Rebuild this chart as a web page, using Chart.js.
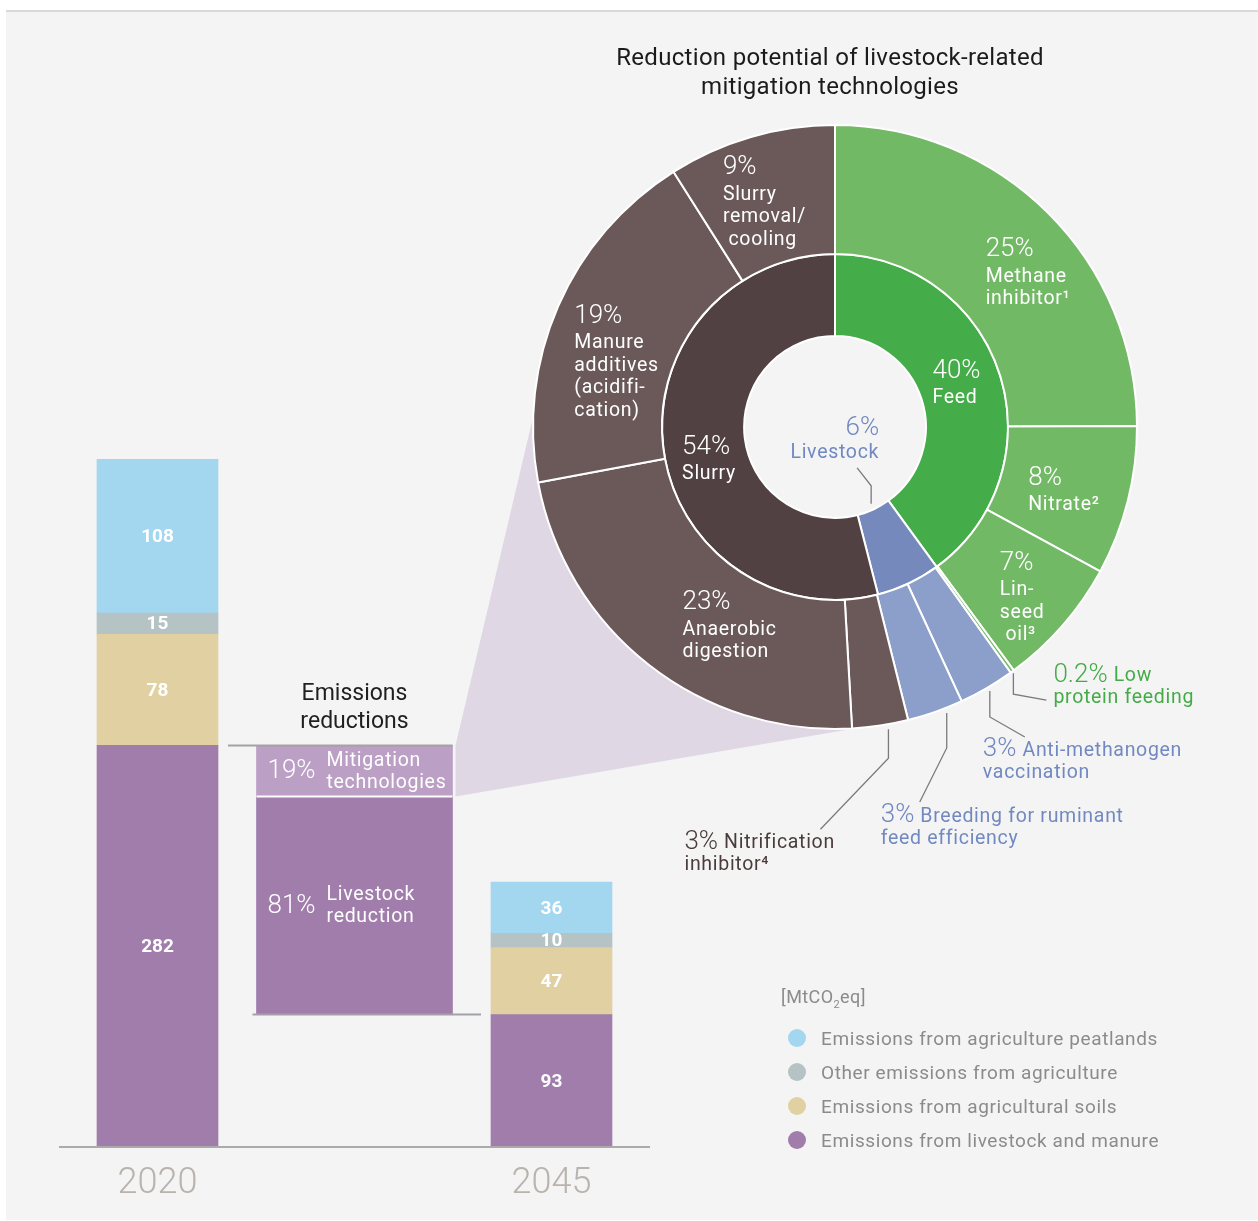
<!DOCTYPE html>
<html>
<head>
<meta charset="utf-8">
<script src="https://cdn.jsdelivr.net/npm/chart.js@4.4.1/dist/chart.umd.min.js"></script>
<style>
  body { margin: 0; background: #fff; font-family: Roboto, "Noto Sans", sans-serif; }
  #panel { position: absolute; left: 6px; top: 10px; width: 1252px; height: 1208px; background: #f4f4f4; border-top: 2px solid #d9d9d9; }
  canvas { position: absolute; left: 0; top: 0; }
  #title { position: absolute; left: 580px; top: 43px; width: 500px; text-align: center; font-size: 24px; letter-spacing: 0.3px; line-height: 29px; color: #1b1b1b; }
  #legend { position: absolute; left: 781px; top: 986px; color: #8b8b8b; }
  #legend .unit { font-size: 18px; line-height: 22px; margin-bottom: 13px; letter-spacing: 0.4px; }
  #legend .unit sub { font-size: 11px; line-height: 0; }
  #legend .row { height: 34px; display: flex; align-items: center; font-size: 19px; letter-spacing: 0.6px; }
  #legend .dot { width: 18px; height: 18px; border-radius: 50%; margin-left: 7px; margin-right: 15px; }
</style>
</head>
<body>
<div id="panel"></div>
<canvas id="bars" width="1258" height="1221"></canvas>
<canvas id="donut" width="1258" height="1221"></canvas>
<div id="title">Reduction potential of livestock-related<br>mitigation technologies</div>
<div id="legend">
  <div class="unit">[MtCO<sub>2</sub>eq]</div>
  <div id="items"></div>
</div>
<script>
// ---- bar data (MtCO2eq) ----
const years = ["2020", "", "2045"];
const yearIdx = [0, 2]; // categories that hold the year stacks
const seriesNames = [
  "Emissions from livestock and manure",
  "Emissions from agricultural soils",
  "Other emissions from agriculture",
  "Emissions from agriculture peatlands",
];
const livestock = [282, 93];
const soils = [78, 47];
const other = [15, 10];
const peatlands = [108, 36];
const seriesColors = ["#a17dac", "#e0d0a2", "#b5c3c4", "#a3d6ef"];

// split of the livestock emissions reduction
const reductionShares = [81, 19];
const reductionNames = [["Livestock", "reduction"], ["Mitigation", "technologies"]];
const reductionColors = ["#a17dac", "#bb9fc5"];

// ---- doughnut data (% of reduction potential) ----
const groupNames = ["Feed", "Livestock", "Slurry"];
const groupValues = [40, 6, 54];
const techNames = [
  ["Methane", "inhibitor\u00b9"],
  ["Nitrate\u00b2"],
  ["Lin-", "seed", " oil\u00b3"],
  ["Low", "protein feeding"],
  ["Anti-methanogen", "vaccination"],
  ["Breeding for ruminant", "feed efficiency"],
  ["Nitrification", "inhibitor\u2074"],
  ["Anaerobic", "digestion"],
  ["Manure", "additives", "(acidifi-", "cation)"],
  ["Slurry", "removal/", " cooling"],
];
const techValues = [25, 8, 7, 0.2, 3, 3, 3, 23, 19, 9];
const techGroup = [0, 0, 0, 0, 1, 1, 2, 2, 2, 2];
const outerColors = ["#72b966", "#8c9fca", "#6b5959"];
const innerColors = ["#44ac48", "#7589bc", "#524142"];
const textColors = ["#44ab48", "#7189c0", "#4a3c3c"];

Chart.defaults.font.family = "Roboto, 'Noto Sans', sans-serif";

const PCT_FONT = "300 26px Roboto";
const NAME_FONT = "19.5px Roboto";
const NAME_SPACING = "0.7px";

// legend
const items = document.getElementById("items");
seriesNames.map((n, i) => [n, seriesColors[i]]).reverse().forEach(([n, c]) => {
  const row = document.createElement("div");
  row.className = "row";
  row.innerHTML = '<span class="dot" style="background:' + c + '"></span>' + n;
  items.appendChild(row);
});

// stacked segments as floating ranges
const stackSeries = [livestock, soils, other, peatlands];
const stackBase = [0, 0];
const yearDatasets = stackSeries.map((vals, s) => {
  const ranges = vals.map((v, i) => {
    const r = [stackBase[i], stackBase[i] + v];
    stackBase[i] += v;
    return r;
  });
  return {
    label: seriesNames[s],
    data: [ranges[0], null, ranges[1]],
    backgroundColor: seriesColors[s],
    barThickness: 121,
    grouped: false,
  };
});

const reductionTotal = livestock[0] - livestock[1];
let redBase = livestock[1];
const reductionDatasets = reductionShares.map((p, k) => {
  const r = [redBase, redBase + reductionTotal * p / 100];
  redBase = r[1];
  return {
    label: reductionNames[k].join(" "),
    data: [null, r, null],
    backgroundColor: reductionColors[k],
    barThickness: 196,
    grouped: false,
  };
});

const barNotes = {
  id: "barNotes",
  afterDatasetsDraw(chart) {
    const { ctx, chartArea, scales } = chart;
    const zeroY = scales.y.getPixelForValue(0);
    const first = chart.getDatasetMeta(0).data;
    const red = chart.getDatasetMeta(4).data[1];
    const mit = chart.getDatasetMeta(5).data[1];
    const redLeft = red.x - red.width / 2, redRight = red.x + red.width / 2;
    ctx.save();

    // separator inside the reduction bar
    ctx.strokeStyle = "#ffffff";
    ctx.lineWidth = 2;
    ctx.beginPath();
    ctx.moveTo(redLeft, red.y);
    ctx.lineTo(redRight, red.y);
    ctx.stroke();

    // base line and connectors
    ctx.strokeStyle = "#aaaaaa";
    ctx.beginPath();
    ctx.moveTo(chartArea.left, zeroY);
    ctx.lineTo(chartArea.right, zeroY);
    ctx.stroke();
    ctx.strokeStyle = "#a6a1a8";
    ctx.beginPath();
    ctx.moveTo(first[0].x + first[0].width / 2 + 10, mit.y);
    ctx.lineTo(redRight, mit.y);
    ctx.moveTo(redLeft - 4, red.base);
    ctx.lineTo(first[2].x - first[2].width / 2 - 10, red.base);
    ctx.stroke();

    // values
    ctx.fillStyle = "#ffffff";
    ctx.textBaseline = "middle";
    ctx.textAlign = "center";
    ctx.font = "bold 19px Roboto";
    stackSeries.forEach((vals, s) => {
      const bars = chart.getDatasetMeta(s).data;
      yearIdx.forEach((idx, i) => {
        const b = bars[idx];
        ctx.fillText(String(vals[i]), b.x, (b.y + b.base) / 2 + 1);
      });
    });

    // reduction bar texts
    ctx.textAlign = "left";
    [red, mit].forEach((b, k) => {
      const cy = (b.y + b.base) / 2 + 1;
      const left = b.x - b.width / 2;
      ctx.letterSpacing = "0px";
      ctx.font = PCT_FONT;
      ctx.fillText(reductionShares[k] + "%", left + 11, cy);
      ctx.font = NAME_FONT;
      ctx.letterSpacing = NAME_SPACING;
      ctx.fillText(reductionNames[k][0], left + 70, cy - 11);
      ctx.fillText(reductionNames[k][1], left + 70, cy + 11);
    });
    ctx.letterSpacing = "0px";

    // heading over the reduction bar
    ctx.textAlign = "center";
    ctx.fillStyle = "#1f1f1f";
    ctx.font = "23px Roboto";
    ctx.fillText("Emissions", mit.x, mit.y - 51);
    ctx.fillText("reductions", mit.x, mit.y - 23);

    // year labels
    ctx.fillStyle = "#b8b3ac";
    ctx.font = "300 36px Roboto";
    yearIdx.forEach(idx => ctx.fillText(years[idx], scales.x.getPixelForValue(idx), zeroY + 37));
    ctx.restore();
  },
};

const barChart = new Chart(document.getElementById("bars"), {
  type: "bar",
  data: { labels: years, datasets: [...yearDatasets, ...reductionDatasets] },
  options: {
    responsive: false,
    animation: false,
    events: [],
    layout: { padding: { left: 59, right: 608, top: 435, bottom: 74 } },
    scales: {
      x: { display: false, grid: { display: false } },
      y: { display: false, min: 0, max: 500 },
    },
    plugins: { legend: { display: false }, tooltip: { enabled: false } },
  },
  plugins: [barNotes],
});

// angles (deg, canvas) where the connector wedge meets the doughnut
const connectorAngles = [182, 86];

// label offsets from each arc's centroid: [ring, index, dx, dy]
const insideSpots = [
  [0, 0, -17, -9], [0, 1, -37, -7], [0, 2, -14, -20], [0, 7, -6, -11],
  [0, 8, -43, -16], [0, 9, -46, -31], [1, 0, -28, -15], [1, 2, -22, 4],
];
// outside leaders: [index, position in arc, gap, vertical run, dx, dy, text dx, text dy]
const leaders = [
  [3, 0.5, 2, 21, 33, 6, 7, -25],
  [4, 0.48, 4, 26, 35, 20, -42, 13],
  [5, 0.32, 5, 35, -27, 54, -39, 14],
  [6, 0.37, 5, 29, -68, 71, -136, 13],
];

const fmt = v => String(v) + "%";

const donutNotes = {
  id: "donutNotes",
  beforeDatasetsDraw(chart) {
    const ctx = chart.ctx;
    const arc = chart.getDatasetMeta(0).data[0];
    const cx = arc.x, cy = arc.y, R = arc.outerRadius;
    const mit = barChart.getDatasetMeta(5).data[1];
    const px = mit.x + mit.width / 2 + 3;
    const aT = connectorAngles[0] * Math.PI / 180, aB = connectorAngles[1] * Math.PI / 180;
    ctx.save();
    ctx.fillStyle = "#dfd7e4";
    ctx.beginPath();
    ctx.moveTo(px, mit.y);
    ctx.lineTo(cx + R * Math.cos(aT), cy + R * Math.sin(aT));
    ctx.arc(cx, cy, R, aT, aB, true);
    ctx.lineTo(px, mit.base);
    ctx.closePath();
    ctx.fill();
    ctx.restore();
  },
  afterDatasetsDraw(chart) {
    const ctx = chart.ctx;
    const outer = chart.getDatasetMeta(0).data;
    const inner = chart.getDatasetMeta(1).data;
    ctx.save();
    ctx.textBaseline = "middle";
    ctx.textAlign = "left";

    // labels inside the rings
    ctx.fillStyle = "#ffffff";
    insideSpots.forEach(([ring, i, dx, dy]) => {
      const a = (ring === 0 ? outer : inner)[i];
      const mid = (a.startAngle + a.endAngle) / 2;
      const r = (a.innerRadius + a.outerRadius) / 2;
      const x = a.x + r * Math.cos(mid) + dx;
      let y = a.y + r * Math.sin(mid) + dy;
      const value = ring === 0 ? techValues[i] : groupValues[i];
      const lines = ring === 0 ? techNames[i] : [groupNames[i]];
      ctx.letterSpacing = "0px";
      ctx.font = PCT_FONT;
      ctx.fillText(fmt(value), x, y);
      ctx.font = NAME_FONT;
      ctx.letterSpacing = NAME_SPACING;
      y += 27;
      lines.forEach(t => { ctx.fillText(t, x, y); y += 22.5; });
    });

    // leaders and outside labels
    ctx.strokeStyle = "#7a7a7a";
    ctx.lineWidth = 1.3;
    leaders.forEach(([i, f, gap, run, dx, dy, tx, ty]) => {
      const a = outer[i];
      const ang = a.startAngle + f * (a.endAngle - a.startAngle);
      const sx = a.x + (a.outerRadius + gap) * Math.cos(ang);
      const sy = a.y + (a.outerRadius + gap) * Math.sin(ang);
      const ex = sx + dx, ey = sy + run + dy;
      ctx.beginPath();
      ctx.moveTo(sx, sy);
      ctx.lineTo(sx, sy + run);
      ctx.lineTo(ex, ey);
      ctx.stroke();
      ctx.fillStyle = textColors[techGroup[i]];
      const x = ex + tx, y = ey + ty;
      ctx.letterSpacing = "0px";
      ctx.font = PCT_FONT;
      const p = fmt(techValues[i]);
      ctx.fillText(p, x, y);
      const w = ctx.measureText(p).width;
      ctx.font = NAME_FONT;
      ctx.letterSpacing = NAME_SPACING;
      ctx.fillText(techNames[i][0], x + w + 6, y + 1);
      ctx.fillText(techNames[i][1], x, y + 23);
    });

    // livestock leader from the inner ring into the hole
    const lv = inner[1];
    const mid = (lv.startAngle + lv.endAngle) / 2;
    const sx = lv.x + (lv.innerRadius - 6) * Math.cos(mid);
    const sy = lv.y + (lv.innerRadius - 6) * Math.sin(mid);
    ctx.beginPath();
    ctx.moveTo(sx, sy);
    ctx.lineTo(sx, sy - 18);
    ctx.lineTo(sx - 14, sy - 36);
    ctx.stroke();
    ctx.fillStyle = textColors[1];
    ctx.textAlign = "right";
    ctx.letterSpacing = "0px";
    ctx.font = PCT_FONT;
    ctx.fillText(fmt(groupValues[1]), sx + 8, sy - 75);
    ctx.font = NAME_FONT;
    ctx.letterSpacing = NAME_SPACING;
    ctx.fillText(groupNames[1], sx + 8, sy - 51);
    ctx.restore();
  },
};

new Chart(document.getElementById("donut"), {
  type: "doughnut",
  data: {
    labels: techNames.map(n => n.join(" ")),
    datasets: [
      { label: "Technologies", data: techValues, backgroundColor: techGroup.map(g => outerColors[g]), weight: 129, borderColor: "#ffffff", borderWidth: 2 },
      { label: "Areas", data: groupValues, backgroundColor: innerColors, weight: 82, borderColor: "#ffffff", borderWidth: 2 },
    ],
  },
  options: {
    responsive: false,
    animation: false,
    events: [],
    cutout: "30.1%",
    layout: { padding: { left: 532, top: 124, right: 120, bottom: 491 } },
    plugins: { legend: { display: false }, tooltip: { enabled: false } },
  },
  plugins: [donutNotes],
});
</script>
</body>
</html>
